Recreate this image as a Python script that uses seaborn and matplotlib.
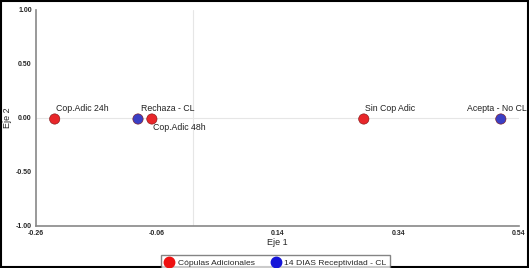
import matplotlib
matplotlib.use("Agg")
import matplotlib.pyplot as plt
import seaborn as sns
import pandas as pd
from matplotlib.lines import Line2D

# points
labels = ["Cop.Adic 24h", "Rechaza - CL", "Cop.Adic 48h", "Sin Cop Adic", "Acepta - No CL"]
eje1 = [-0.229, -0.091, -0.068, 0.283, 0.510]
eje2 = [-0.01, -0.01, -0.01, -0.01, -0.01]
grupo = ["Cópulas Adicionales", "14 DIAS Receptividad - CL", "Cópulas Adicionales",
         "Cópulas Adicionales", "14 DIAS Receptividad - CL"]

xticks = [-0.26, -0.06, 0.14, 0.34, 0.54]
yticks = [-1.00, -0.50, 0.00, 0.50, 1.00]

df = pd.DataFrame({"Eje 1": eje1, "Eje 2": eje2, "grupo": grupo, "label": labels})
colors = {"Cópulas Adicionales": "#e8262a", "14 DIAS Receptividad - CL": "#3b3fc4"}
leg_colors = {"Cópulas Adicionales": "#ee1111", "14 DIAS Receptividad - CL": "#1515d8"}

sns.set_style("white")
plt.rcParams['font.family'] = ['Liberation Sans', 'DejaVu Sans']

fig = plt.figure(figsize=(5.29, 2.68), dpi=100)
ax = fig.add_axes([0.068, 0.157, 0.913, 0.806])

ax.axhline(0, color="#e6e6e6", lw=0.8, zorder=0)
ax.axvline(0, color="#e6e6e6", lw=0.8, zorder=0)

sns.scatterplot(data=df, x="Eje 1", y="Eje 2", hue="grupo", palette=colors,
                s=55, edgecolor="#7a1010", linewidth=0.4, legend=False, ax=ax, zorder=3)

# label placement (offsets in points)
offsets = [(1, 4, "left"), (2, 4, "left"), (1, -9, "left"), (1, 4, "left"), (-3, 4, "center")]
for lab, x, y, (dx, dy, ha) in zip(labels, eje1, eje2, offsets):
    ax.annotate(lab, (x, y), xytext=(dx, dy), textcoords="offset points",
                fontsize=6.3, ha=ha, va="bottom", color="#222222")

ax.set_xlim(xticks[0], xticks[-1])
ax.set_ylim(yticks[0], yticks[-1])
ax.set_xticks(xticks)
ax.set_xticklabels([f"{t:.2f}" for t in xticks], fontsize=5, fontweight="bold")
ax.set_yticks(yticks)
ax.set_yticklabels([f"{t:.2f}" for t in yticks], fontsize=5, fontweight="bold")
ax.tick_params(axis="both", length=2, width=0.8, color="#777777", pad=1, direction="out")

for side in ["top", "right"]:
    ax.spines[side].set_visible(False)
for side in ["left", "bottom"]:
    ax.spines[side].set_color("#888888")
    ax.spines[side].set_linewidth(1.2)

ax.set_xlabel("Eje 1", fontsize=6.5, labelpad=1)
ax.set_ylabel("Eje 2", fontsize=6.5, labelpad=3)

handles = [Line2D([], [], marker="o", ls="", markersize=7.5, markerfacecolor=leg_colors[g],
                  markeredgecolor=leg_colors[g], label=g) for g in colors]
fig.legend(handles=handles, loc="lower center", bbox_to_anchor=(0.521, -0.02), ncol=2,
           fontsize=6.1, frameon=True, fancybox=False, edgecolor="#666666",
           handletextpad=0.5, columnspacing=2.0, borderpad=0.45, handlelength=1.0,
           borderaxespad=0.3)

# outer black frame
fig.patches.append(plt.Rectangle((0.002, 0.004), 0.996, 0.992, transform=fig.transFigure,
                                 fill=False, edgecolor="black", lw=1.5))

fig.savefig("out.png", dpi=100)
